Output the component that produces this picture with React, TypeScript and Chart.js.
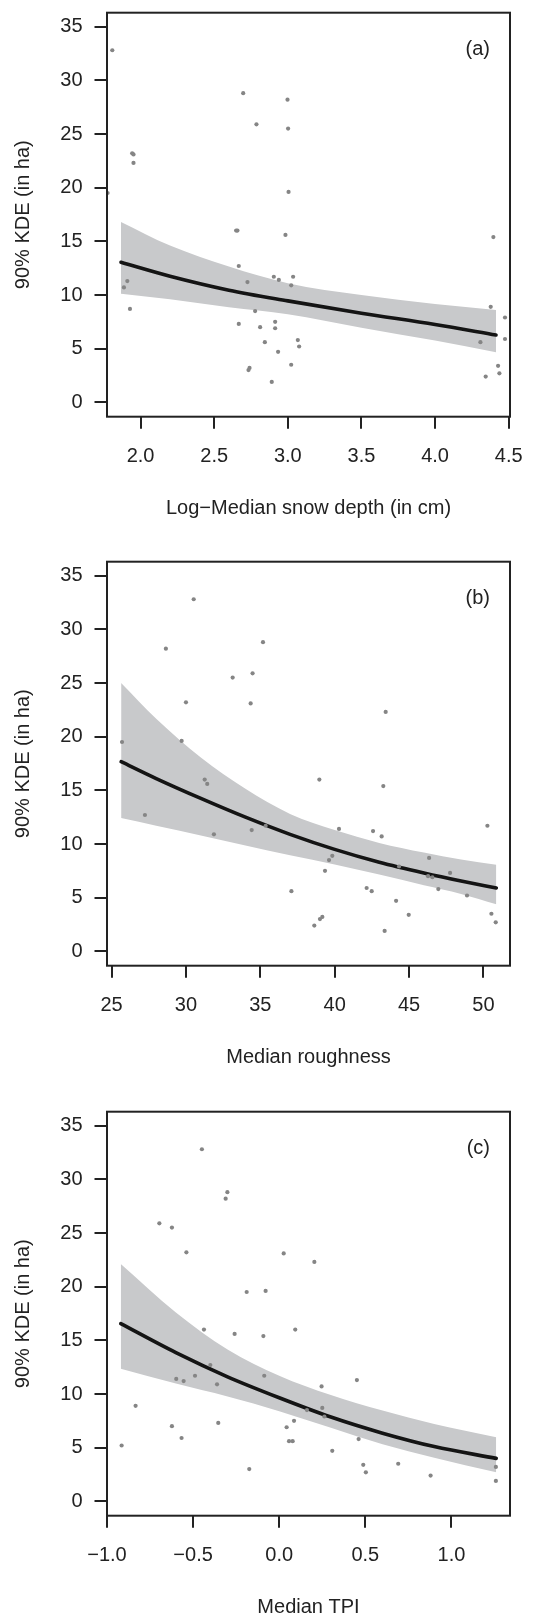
import React, { useEffect, useRef } from "react";
import { Chart, registerables } from "chart.js";

Chart.register(...registerables);

// ---- Shared y axis: 90% KDE home-range area (ha) ----
const yTicks = [0, 5, 10, 15, 20, 25, 30, 35];
const yTickLabels = ["0", "5", "10", "15", "20", "25", "30", "35"];
const yMin = -1.34;
const yMax = 36.3;

// ---- (a) Log-median snow depth ----
const snowX = [
  1.808, 1.776, 1.943, 1.952, 1.952, 2.697, 2.998, 2.787, 3.002, 3.005, 2.649,
  2.658, 2.984, 4.396, 2.667, 2.726, 2.905, 2.939, 3.036, 3.023, 1.91, 1.887,
  1.928, 2.778, 2.667, 2.812, 2.914, 2.914, 2.844, 3.068, 3.077, 2.934, 3.023,
  2.74, 2.733, 2.891, 4.378, 4.475, 4.475, 4.308, 4.428, 4.437, 4.344,
];
const snowKde = [
  32.8, 19.5, 23.2, 23.1, 22.3, 28.8, 28.2, 25.9, 25.5, 19.6, 16.0, 16.0, 15.6,
  15.4, 12.7, 11.2, 11.7, 11.4, 11.7, 10.9, 11.3, 10.7, 8.7, 8.5, 7.3, 7.0, 7.5,
  6.9, 5.6, 5.8, 5.2, 4.7, 3.5, 3.2, 3.0, 1.9, 8.9, 7.9, 5.9, 5.6, 3.4, 2.7, 2.4,
];
const snowCurveX = [1.867, 2.2, 2.6, 3.0, 3.5, 4.0, 4.414];
const snowFit = [13.05, 11.75, 10.45, 9.45, 8.3, 7.25, 6.27];
const snowUpper = [16.8, 14.6, 12.65, 11.1, 10.0, 9.15, 8.6];
const snowLower = [10.12, 9.6, 8.85, 8.2, 6.95, 5.75, 4.66];
const snowTicks = [2.0, 2.5, 3.0, 3.5, 4.0, 4.5];
const snowTickLabels = ["2.0", "2.5", "3.0", "3.5", "4.0", "4.5"];

// ---- (b) Median roughness ----
const roughX = [
  30.52, 28.65, 35.18, 33.14, 34.48, 30.0, 34.35, 43.43, 29.71, 25.7, 38.97,
  31.26, 31.43, 43.27, 27.24, 50.27, 35.36, 40.29, 34.42, 42.58, 43.16, 31.88,
  39.84, 39.62, 46.35, 39.35, 44.33, 47.76, 46.28, 46.57, 37.09, 42.15, 42.49,
  46.97, 48.9, 44.13, 44.98, 50.54, 50.83, 39.17, 39.01, 38.63, 43.36,
];
const roughKde = [
  32.8, 28.2, 28.8, 25.5, 25.9, 23.2, 23.1, 22.3, 19.6, 19.5, 16.0, 16.0, 15.6,
  15.4, 12.7, 11.7, 11.7, 11.4, 11.3, 11.2, 10.7, 10.9, 8.9, 8.5, 8.7, 7.5, 7.9,
  7.3, 7.0, 6.9, 5.6, 5.9, 5.6, 5.8, 5.2, 4.7, 3.4, 3.5, 2.7, 3.2, 3.0, 2.4, 1.9,
];
const roughCurveX = [25.64, 28, 31, 34, 37, 40, 43, 46, 48.5, 50.87];
const roughFit = [17.67, 16.1, 14.25, 12.5, 10.9, 9.5, 8.3, 7.3, 6.55, 5.9];
const roughUpper = [25.0, 21.66, 18.05, 15.14, 12.8, 11.3, 10.1, 9.2, 8.55, 8.07];
const roughLower = [12.42, 11.7, 10.8, 9.85, 8.95, 8.1, 7.15, 6.15, 5.35, 4.38];
const roughTicks = [25, 30, 35, 40, 45, 50];
const roughTickLabels = ["25", "30", "35", "40", "45", "50"];

// ---- (c) Median TPI ----
const tpiX = [
  -0.449, -0.301, -0.311, -0.696, -0.623, -0.539, 0.026, 0.204, -0.189, -0.079,
  -0.437, 0.093, -0.259, -0.092, -0.4, -0.489, -0.087, -0.598, -0.555, 0.451,
  -0.361, 0.246, -0.834, 0.161, 0.25, 0.262, 0.086, -0.354, -0.623, 0.043,
  -0.567, 0.057, 0.078, 0.461, -0.915, 0.308, -0.174, 0.488, 0.691, 0.503,
  0.879, 1.258, 1.258,
];
const tpiKde = [
  32.8, 28.8, 28.2, 25.9, 25.5, 23.2, 23.1, 22.3, 19.5, 19.6, 16.0, 16.0, 15.6,
  15.4, 12.7, 11.7, 11.7, 11.4, 11.2, 11.3, 10.9, 10.7, 8.9, 8.5, 8.7, 7.9, 7.5,
  7.3, 7.0, 6.9, 5.9, 5.6, 5.6, 5.8, 5.2, 4.7, 3.0, 3.4, 3.5, 2.7, 2.4, 3.2, 1.9,
];
const tpiCurveX = [-0.92, -0.6, -0.3, 0.0, 0.3, 0.6, 0.9, 1.26];
const tpiFit = [16.55, 13.85, 11.6, 9.65, 7.85, 6.35, 5.1, 4.0];
const tpiUpper = [22.12, 17.6, 14.15, 11.7, 9.9, 8.45, 7.2, 5.96];
const tpiLower = [12.34, 10.97, 9.77, 8.4, 6.85, 5.32, 4.06, 2.7];
const tpiTicks = [-1.0, -0.5, 0.0, 0.5, 1.0];
const tpiTickLabels = ["\u22121.0", "\u22120.5", "0.0", "0.5", "1.0"];

// ---- Styling ----
const FONT = "'Liberation Sans', Arial, Helvetica, sans-serif";
const INK = "#222222";
const DOT = "#858585";
const BAND = "#c8c9cb";
const FIT = "#141414";

const CANVAS_W = 541;
const CANVAS_H = 549;
const AREA_TOP = 12.7;
const AREA_BOTTOM = 416.7;
const AREA_LEFT = 107;
const AREA_RIGHT = 510;

type PanelSpec = {
  tag: string;
  xTitle: string;
  xMin: number;
  xMax: number;
  xTicks: number[];
  xTickLabels: string[];
  xs: number[];
  ys: number[];
  curveX: number[];
  fit: number[];
  upper: number[];
  lower: number[];
};

const panels: PanelSpec[] = [
  {
    tag: "(a)",
    xTitle: "Log\u2212Median snow depth (in cm)",
    xMin: 1.772,
    xMax: 4.509,
    xTicks: snowTicks,
    xTickLabels: snowTickLabels,
    xs: snowX,
    ys: snowKde,
    curveX: snowCurveX,
    fit: snowFit,
    upper: snowUpper,
    lower: snowLower,
  },
  {
    tag: "(b)",
    xTitle: "Median roughness",
    xMin: 24.69,
    xMax: 51.79,
    xTicks: roughTicks,
    xTickLabels: roughTickLabels,
    xs: roughX,
    ys: roughKde,
    curveX: roughCurveX,
    fit: roughFit,
    upper: roughUpper,
    lower: roughLower,
  },
  {
    tag: "(c)",
    xTitle: "Median TPI",
    xMin: -1.0,
    xMax: 1.34,
    xTicks: tpiTicks,
    xTickLabels: tpiTickLabels,
    xs: tpiX,
    ys: tpiKde,
    curveX: tpiCurveX,
    fit: tpiFit,
    upper: tpiUpper,
    lower: tpiLower,
  },
];

const zip = (xs: number[], ys: number[]) => xs.map((x, i) => ({ x, y: ys[i] }));

// Closed frame around the plotting region
const framePlugin = {
  id: "frame",
  afterDraw(chart: any) {
    const { ctx, chartArea } = chart;
    ctx.save();
    ctx.strokeStyle = INK;
    ctx.lineWidth = 2;
    ctx.strokeRect(
      chartArea.left,
      chartArea.top,
      chartArea.right - chartArea.left,
      chartArea.bottom - chartArea.top
    );
    ctx.restore();
  },
};

// Panel letter in the top-right corner
const tagPlugin = {
  id: "panelTag",
  afterDraw(chart: any, _args: any, opts: any) {
    const { ctx, chartArea } = chart;
    ctx.save();
    ctx.fillStyle = INK;
    ctx.font = `20px ${FONT}`;
    ctx.textAlign = "right";
    ctx.textBaseline = "middle";
    ctx.fillText(opts.text, chartArea.right - 20, chartArea.top + 36.5);
    ctx.restore();
  },
};

function Panel({ spec, top }: { spec: PanelSpec; top: number }) {
  const ref = useRef<HTMLCanvasElement | null>(null);

  useEffect(() => {
    if (!ref.current) return;
    const tickFont = { family: FONT, size: 20 };
    const chart = new Chart(ref.current, {
      type: "line",
      data: {
        datasets: [
          {
            data: zip(spec.xs, spec.ys),
            showLine: false,
            pointRadius: 2.1,
            pointBackgroundColor: DOT,
            pointBorderWidth: 0,
            borderColor: DOT,
            order: 0,
            clip: 0,
          } as any,
          {
            data: zip(spec.curveX, spec.fit),
            borderColor: FIT,
            borderWidth: 3.6,
            borderCapStyle: "round",
            pointRadius: 0,
            cubicInterpolationMode: "monotone",
            fill: false,
            order: 1,
          } as any,
          {
            data: zip(spec.curveX, spec.upper),
            borderColor: "rgba(0,0,0,0)",
            borderWidth: 0,
            backgroundColor: BAND,
            pointRadius: 0,
            cubicInterpolationMode: "monotone",
            fill: "+1",
            order: 2,
          } as any,
          {
            data: zip(spec.curveX, spec.lower),
            borderColor: "rgba(0,0,0,0)",
            borderWidth: 0,
            pointRadius: 0,
            cubicInterpolationMode: "monotone",
            fill: false,
            order: 3,
          } as any,
        ],
      },
      options: {
        responsive: false,
        animation: false,
        events: [],
        layout: {
          padding: { left: 0, top: AREA_TOP, right: CANVAS_W - AREA_RIGHT, bottom: 0 },
        },
        plugins: {
          legend: { display: false },
          tooltip: { enabled: false },
          panelTag: { text: spec.tag },
        } as any,
        scales: {
          x: {
            type: "linear",
            position: "bottom",
            min: spec.xMin,
            max: spec.xMax,
            afterBuildTicks: (axis: any) => {
              axis.ticks = spec.xTicks.map((v) => ({ value: v }));
            },
            afterFit: (axis: any) => {
              axis.height = CANVAS_H - AREA_BOTTOM;
              axis.paddingLeft = 0;
              axis.paddingRight = 0;
            },
            grid: {
              display: true,
              drawOnChartArea: false,
              drawTicks: true,
              tickLength: 12,
              lineWidth: 2,
              color: INK,
            },
            border: { display: false },
            ticks: {
              autoSkip: false,
              maxRotation: 0,
              minRotation: 0,
              padding: 16,
              color: INK,
              font: tickFont,
              callback: (_v: any, i: number) => spec.xTickLabels[i],
            },
            title: {
              display: true,
              text: spec.xTitle,
              color: INK,
              font: tickFont,
              padding: { top: 0, bottom: 29 },
            },
          },
          y: {
            type: "linear",
            position: "left",
            min: yMin,
            max: yMax,
            afterBuildTicks: (axis: any) => {
              axis.ticks = yTicks.map((v) => ({ value: v }));
            },
            afterFit: (axis: any) => {
              axis.width = AREA_LEFT;
              axis.paddingTop = 0;
              axis.paddingBottom = 0;
            },
            grid: {
              display: true,
              drawOnChartArea: false,
              drawTicks: true,
              tickLength: 12.5,
              lineWidth: 2,
              color: INK,
            },
            border: { display: false },
            ticks: {
              autoSkip: false,
              padding: 12,
              color: INK,
              font: tickFont,
              callback: (_v: any, i: number) => yTickLabels[i],
            },
            title: {
              display: true,
              text: "90% KDE (in ha)",
              color: INK,
              font: tickFont,
              padding: { top: 11, bottom: 0 },
            },
          },
        },
      } as any,
      plugins: [framePlugin, tagPlugin],
    });
    return () => chart.destroy();
  }, [spec]);

  return (
    <canvas
      ref={ref}
      width={CANVAS_W}
      height={CANVAS_H}
      style={{ position: "absolute", left: 0, top, width: CANVAS_W, height: CANVAS_H }}
    />
  );
}

export default function App() {
  return (
    <div
      style={{
        position: "absolute",
        left: 0,
        top: 0,
        width: CANVAS_W,
        height: 1617,
        overflow: "hidden",
        background: "#ffffff",
      }}
    >
      <Panel spec={panels[0]} top={0} />
      <Panel spec={panels[1]} top={549} />
      <Panel spec={panels[2]} top={1099} />
    </div>
  );
}
